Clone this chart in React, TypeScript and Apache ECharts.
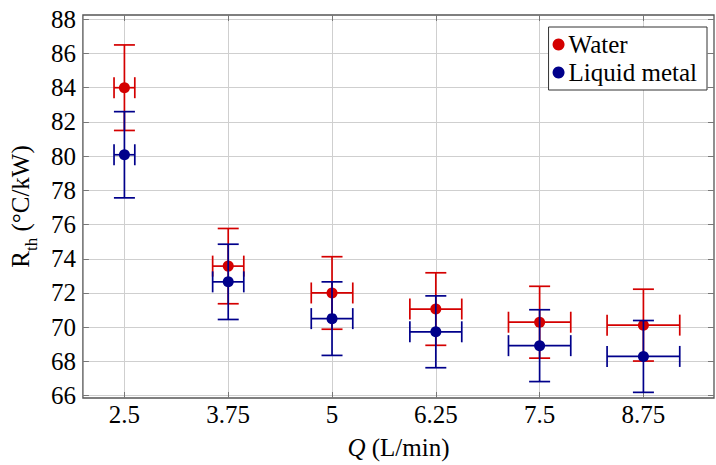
import React, { useEffect, useRef } from "react";
import * as echarts from "echarts";

const flowRates = [2.5, 3.75, 5, 6.25, 7.5, 8.75];
const flowErr = [0.125, 0.1875, 0.25, 0.3125, 0.375, 0.4375];
const waterR = [84.0, 73.57, 72.0, 71.06, 70.29, 70.12];
const waterErr = [2.5, 2.2, 2.12, 2.12, 2.1, 2.1];
const metalR = [80.08, 72.65, 70.5, 69.73, 68.92, 68.29];
const metalErr = [2.52, 2.2, 2.15, 2.1, 2.1, 2.1];
const xTicks = [2.5, 3.75, 5, 6.25, 7.5, 8.75];
const yTicks = [66, 68, 70, 72, 74, 76, 78, 80, 82, 84, 86, 88];

const RED = "#d40000";
const BLUE = "#00008b";
const FONT = "Liberation Serif";
const FS = 25;

function errorSeries(name: string, ys: number[], errs: number[], color: string, z: number) {
  return {
    type: "custom",
    name: name + " err",
    z,
    clip: false,
    silent: true,
    encode: { x: 0, y: 1 },
    data: flowRates.map((x, i) => [x, ys[i], flowErr[i], errs[i]]),
    renderItem: (params: any, api: any) => {
      const x = api.value(0);
      const y = api.value(1);
      const ex = api.value(2);
      const ey = api.value(3);
      const top = api.coord([x, y + ey]);
      const bot = api.coord([x, y - ey]);
      const lft = api.coord([x - ex, y]);
      const rgt = api.coord([x + ex, y]);
      const cap = 10.5;
      const style = { stroke: color, lineWidth: 1.7 };
      const ln = (x1: number, y1: number, x2: number, y2: number) => ({
        type: "line",
        shape: { x1, y1, x2, y2 },
        style,
      });
      return {
        type: "group",
        children: [
          ln(top[0], top[1], bot[0], bot[1]),
          ln(top[0] - cap, top[1], top[0] + cap, top[1]),
          ln(bot[0] - cap, bot[1], bot[0] + cap, bot[1]),
          ln(lft[0], lft[1], rgt[0], rgt[1]),
          ln(lft[0], lft[1] - cap, lft[0], lft[1] + cap),
          ln(rgt[0], rgt[1] - cap, rgt[0], rgt[1] + cap),
        ],
      };
    },
  };
}

export default function App() {
  const ref = useRef<HTMLDivElement>(null);
  useEffect(() => {
    if (!ref.current) return;
    const chart = echarts.init(ref.current, null, { renderer: "svg" });
    const grayLine = { color: "#cfcfcf", width: 1, type: "solid" };
    const tickStyle = { show: true, inside: true, length: 6, lineStyle: { color: "#777", width: 1 } };
    const option: any = {
      animation: false,
      grid: {
        left: 82,
        right: 2,
        top: 15,
        bottom: 63,
        show: true,
        borderColor: "#555",
        borderWidth: 1.3,
        backgroundColor: "transparent",
      },
      legend: {
        orient: "vertical",
        right: 9,
        top: 27,
        data: ["Water", "Liquid metal"],
        icon: "circle",
        itemWidth: 12,
        itemHeight: 12,
        itemGap: 3,
        padding: [5, 10, 5, 4],
        borderColor: "#333",
        borderWidth: 1,
        backgroundColor: "#fff",
        textStyle: { fontFamily: FONT, fontSize: FS, color: "#000", padding: [0, 0, 0, -1] },
      },
      xAxis: [
        {
          type: "value",
          min: 2.0,
          max: 9.6,
          name: "{i|Q} (L/min)",
          nameLocation: "middle",
          nameGap: 37,
          nameTextStyle: {
            fontFamily: FONT,
            fontSize: FS,
            color: "#000",
            rich: { i: { fontFamily: FONT, fontSize: FS, fontStyle: "italic", color: "#000" } },
          },
          axisLine: { show: false },
          axisTick: { ...tickStyle, customValues: xTicks },
          axisLabel: {
            customValues: xTicks,
            fontFamily: FONT,
            fontSize: FS,
            color: "#000",
            margin: 4,
            formatter: (v: number) => String(v),
          },
          splitLine: { show: false },
        },
        {
          type: "value",
          position: "top",
          min: 2.0,
          max: 9.6,
          axisLine: { show: false },
          axisTick: { ...tickStyle, customValues: xTicks },
          axisLabel: { show: false },
          splitLine: { show: false },
        },
      ],
      yAxis: [
        {
          type: "value",
          min: 65.86,
          max: 88.25,
          name: "{r|R}{s|th} (°C/kW)",
          nameLocation: "middle",
          nameGap: 46,
          nameTextStyle: {
            fontFamily: FONT,
            fontSize: FS,
            color: "#000",
            rich: {
              r: { fontFamily: FONT, fontSize: FS, color: "#000" },
              s: { fontFamily: FONT, fontSize: 17, color: "#000", verticalAlign: "bottom", padding: [0, 0, -7, 0] },
            },
          },
          axisLine: { show: false },
          axisTick: { ...tickStyle, customValues: yTicks },
          axisLabel: {
            customValues: yTicks,
            fontFamily: FONT,
            fontSize: FS,
            color: "#000",
            margin: 7,
          },
          splitLine: { show: false },
        },
        {
          type: "value",
          position: "right",
          min: 65.86,
          max: 88.25,
          axisLine: { show: false },
          axisTick: { ...tickStyle, customValues: yTicks },
          axisLabel: { show: false },
          splitLine: { show: false },
        },
      ],
      series: [
        {
          type: "line",
          name: "grid",
          data: [],
          z: 0,
          silent: true,
          markLine: {
            silent: true,
            z: 0,
            symbol: "none",
            label: { show: false },
            lineStyle: grayLine,
            emphasis: { disabled: true },
            data: [
              ...xTicks.map((v) => ({ xAxis: v })),
              ...yTicks.map((v) => ({ yAxis: v })),
            ],
          },
        },
        errorSeries("Water", waterR, waterErr, RED, 2),
        {
          type: "scatter",
          name: "Water",
          z: 3,
          symbol: "circle",
          symbolSize: 11,
          itemStyle: { color: RED, opacity: 1 },
          data: flowRates.map((x, i) => [x, waterR[i]]),
        },
        errorSeries("Liquid metal", metalR, metalErr, BLUE, 4),
        {
          type: "scatter",
          name: "Liquid metal",
          z: 5,
          symbol: "circle",
          symbolSize: 11,
          itemStyle: { color: BLUE, opacity: 1 },
          data: flowRates.map((x, i) => [x, metalR[i]]),
        },
      ],
    };
    chart.setOption(option);
    return () => chart.dispose();
  }, []);
  return (
    <>
      <style>{`.rth-chart text, .rth-chart tspan { font-family: 'Liberation Serif', 'Times New Roman', serif !important; }`}</style>
      <div
        ref={ref}
        className="rth-chart"
        style={{ position: "fixed", left: 0, top: 0, width: 716, height: 465, background: "#fff" }}
      />
    </>
  );
}
